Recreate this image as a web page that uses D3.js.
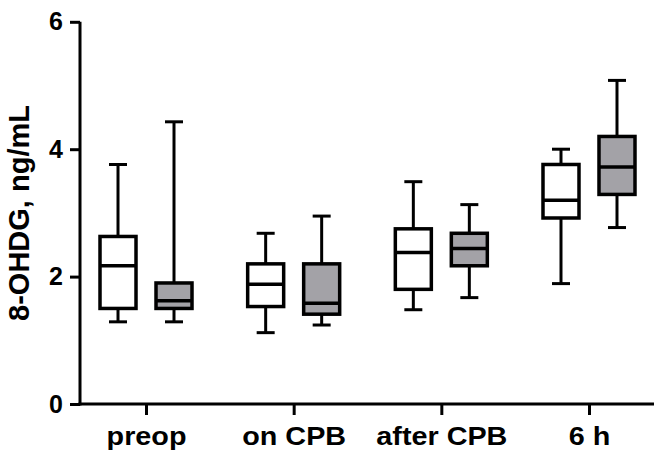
<!DOCTYPE html>
<html>
<head>
<meta charset="utf-8">
<style>
  body { margin: 0; background: #fff; }
  svg text { font-family: "Liberation Sans", Arial, sans-serif; font-weight: bold; fill: #000; }
</style>
<script src="https://cdn.jsdelivr.net/npm/d3@7"></script>
</head>
<body>
<script>
// categories and box stats
var categories = ["preop", "on CPB", "after CPB", "6 h"];
var groups = ["control", "treated"];
var fills = ["#ffffff", "#a3a2a7"];

// [min, q1, median, q3, max] per category
var whiteBoxes = [
  [1.29, 1.50, 2.17, 2.63, 3.76],
  [1.12, 1.53, 1.88, 2.20, 2.68],
  [1.48, 1.80, 2.38, 2.75, 3.49],
  [1.89, 2.92, 3.20, 3.76, 4.00]
];
var grayBoxes = [
  [1.29, 1.50, 1.62, 1.90, 4.43],
  [1.24, 1.41, 1.58, 2.20, 2.95],
  [1.67, 2.17, 2.44, 2.68, 3.13],
  [2.77, 3.29, 3.72, 4.20, 5.08]
];
var yTicks = [0, 2, 4, 6];

var W = 654, H = 456;
var svg = d3.select("body").append("svg").attr("width", W).attr("height", H);

var x = d3.scalePoint().domain(categories).range([80, 655]).padding(0.447);
var y = d3.scaleLinear().domain([0, 6]).range([404, 21.8]);

var boxW = 36, offset = 28, capW = 18;

var data = [];
categories.forEach(function(c, i) {
  data.push({cat: c, g: 0, s: whiteBoxes[i]});
  data.push({cat: c, g: 1, s: grayBoxes[i]});
});

var box = svg.append("g").selectAll("g").data(data).enter().append("g")
  .attr("transform", function(d) { return "translate(" + (x(d.cat) + (d.g ? offset : -offset)) + ",0)"; });

// whiskers
box.append("line")
  .attr("x1", 0).attr("x2", 0)
  .attr("y1", function(d) { return y(d.s[0]); })
  .attr("y2", function(d) { return y(d.s[4]); })
  .attr("stroke", "#000").attr("stroke-width", 3);
box.selectAll(".cap").data(function(d) { return [d.s[0], d.s[4]]; }).enter().append("line")
  .attr("x1", -capW / 2).attr("x2", capW / 2)
  .attr("y1", function(v) { return y(v); }).attr("y2", function(v) { return y(v); })
  .attr("stroke", "#000").attr("stroke-width", 3);
// boxes
box.append("rect")
  .attr("x", -boxW / 2).attr("width", boxW)
  .attr("y", function(d) { return y(d.s[3]); })
  .attr("height", function(d) { return y(d.s[1]) - y(d.s[3]); })
  .attr("fill", function(d) { return fills[d.g]; })
  .attr("stroke", "#000").attr("stroke-width", 3.5);
box.append("line")
  .attr("x1", -boxW / 2).attr("x2", boxW / 2)
  .attr("y1", function(d) { return y(d.s[2]); })
  .attr("y2", function(d) { return y(d.s[2]); })
  .attr("stroke", "#000").attr("stroke-width", 3.5);

// y axis
var yAxis = svg.append("g").attr("transform", "translate(80,0)")
  .call(d3.axisLeft(y).tickValues(yTicks).tickSize(10).tickPadding(7).tickFormat(d3.format("d")));
yAxis.select(".domain").attr("stroke-width", 3).attr("d", "M0," + y(6) + "V" + (y(0) + 1.5));
yAxis.selectAll(".tick line").attr("stroke-width", 3);
yAxis.selectAll("text").style("font-size", "25px");

// x axis
var xAxis = svg.append("g").attr("transform", "translate(0,404)")
  .call(d3.axisBottom(x).tickSize(11).tickPadding(0));
xAxis.select(".domain").attr("stroke-width", 3).attr("d", "M78.5,0H654");
xAxis.selectAll(".tick line").attr("stroke-width", 3);
xAxis.selectAll("text")
  .attr("dy", null).attr("y", 41)
  .attr("transform", "scale(1.15,1)")
  .style("font-size", "25px");

// y label
svg.append("text")
  .attr("transform", "translate(29,213) rotate(-90)")
  .attr("text-anchor", "middle")
  .style("font-size", "29px")
  .text("8-OHDG, ng/mL");
</script>
</body>
</html>
